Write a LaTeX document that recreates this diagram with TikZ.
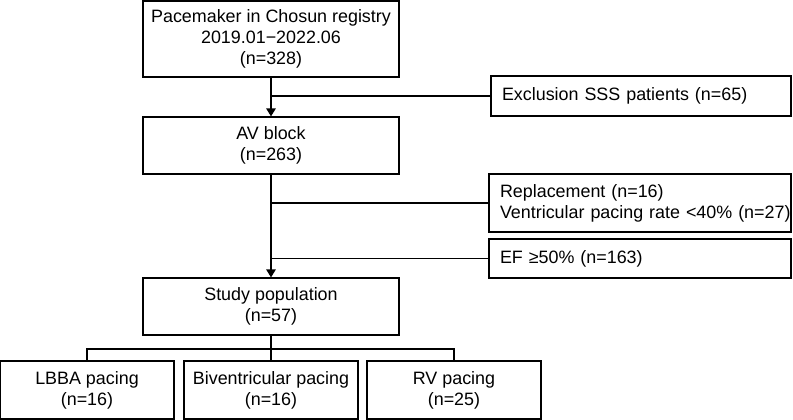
\documentclass[tikz,border=0pt]{standalone}
\usepackage{fontspec}
\setmainfont{Liberation Sans}
\usetikzlibrary{arrows.meta}
\newcommand{\padl}{\hspace*{11pt}}
\begin{document}
\begin{tikzpicture}[x=1pt,y=-1pt,
  box/.style={draw, line width=1.2pt, inner sep=0pt, align=center,
    font=\fontsize{17.9}{21}\selectfont},
  sidebox/.style={draw, line width=1.2pt, inner xsep=0pt, inner ysep=0pt, align=left,
    font=\fontsize{17.9}{21}\selectfont},
  conn/.style={line width=1.2pt},
  arr/.style={line width=1.2pt, -{Triangle[length=8pt,width=9.5pt]}}]
\useasboundingbox (0,0) rectangle (793,420);
\node[box, minimum width=256pt, minimum height=76pt] (top) at (271,39)
  {Pacemaker in Chosun registry\\2019.01−2022.06\\(n=328)};
\node[sidebox, text width=300pt, minimum height=40pt] (excl) at (641,96)
  {\padl Exclusion SSS patients (n=65)};
\node[box, minimum width=256pt, minimum height=57pt] (av) at (271,145.5)
  {AV block\\(n=263)};
\node[sidebox, text width=302pt, minimum height=58pt] (repl) at (640,203)
  {\padl Replacement (n=16)\\\padl Ventricular pacing rate <40\% (n=27)};
\node[sidebox, text width=302pt, minimum height=39pt] (ef) at (640,258.5)
  {\padl EF ≥50\% (n=163)};
\node[box, minimum width=256pt, minimum height=57pt] (study) at (271,306.5)
  {Study population\\(n=57)};
\node[box, minimum width=174pt, minimum height=58pt] (lbba) at (87,390)
  {LBBA pacing\\(n=16)};
\node[box, minimum width=174pt, minimum height=58pt] (biv) at (271,390)
  {Biventricular pacing\\(n=16)};
\node[box, minimum width=174pt, minimum height=58pt] (rv) at (454,390)
  {RV pacing\\(n=25)};
\coordinate (b1) at (top.south |- excl.west);
\coordinate (b2) at (av.south |- repl.west);
\coordinate (b3) at (av.south |- ef.west);
\coordinate (split) at (271,349);
\draw[arr] (top.south) -- (av.north);
\draw[conn] (b1) -- (excl.west);
\draw[arr] (av.south) -- (study.north);
\draw[conn] (b2) -- (repl.west);
\draw[conn] (b3) -- (ef.west);
\draw[conn] (study.south) -- (biv.north);
\draw[conn] (lbba.north) -- (lbba.north |- split) -- (rv.north |- split) -- (rv.north);
\end{tikzpicture}
\end{document}
